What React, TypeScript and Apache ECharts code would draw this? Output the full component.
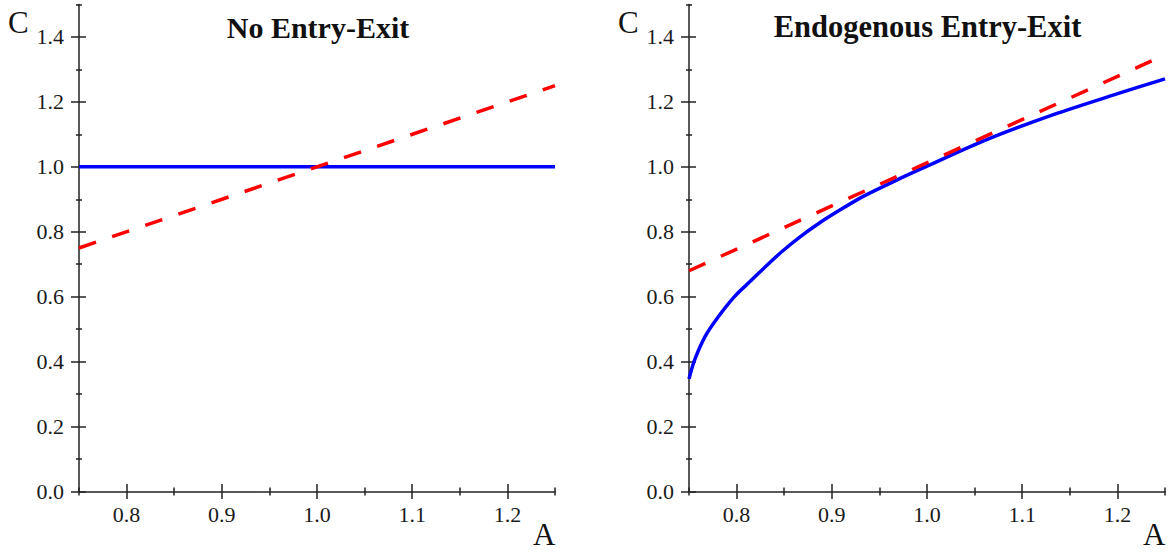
import React, { useEffect, useRef } from "react";
import * as echarts from "echarts";

// Left panel: No Entry-Exit
const leftBlueA = [0.75, 1.25];
const leftBlueC = [1.0, 1.0];
const leftRedA = [0.75, 1.25];
const leftRedC = [0.75, 1.25];

// Right panel: Endogenous Entry-Exit
const rightBlueA = [0.75, 0.756, 0.767, 0.781, 0.798, 0.816, 0.833, 0.848, 0.866, 0.887, 0.908, 0.933, 0.968, 1.0, 1.062, 1.132, 1.202, 1.25];
const rightBlueC = [0.347, 0.406, 0.478, 0.539, 0.601, 0.652, 0.7, 0.74, 0.783, 0.827, 0.866, 0.909, 0.959, 1.002, 1.083, 1.16, 1.227, 1.271];
const rightRedA = [0.75, 1.25];
const rightRedC = [0.68, 1.345];

// Ticks
const xLabelTicks = [0.8, 0.9, 1.0, 1.1, 1.2];
const xMinorTicks = [0.75, 0.85, 0.95, 1.05, 1.15, 1.25];
const yLabelTicks = [0, 0.2, 0.4, 0.6, 0.8, 1.0, 1.2, 1.4];
const yMinorTicks = [0.1, 0.3, 0.5, 0.7, 0.9, 1.1, 1.3, 1.5];

const titles = ["No Entry-Exit", "Endogenous Entry-Exit"];
const xName = "A";
const yName = "C";

const FONT = "Liberation Serif";
const AXIS_COLOR = "#222";
const LABEL_SIZE = 22;

function pairs(a: number[], c: number[]) {
  return a.map((v, i) => [v, c[i]]);
}

function isIn(list: number[], v: number) {
  return list.some((t) => Math.abs(t - v) < 1e-6);
}

function xAxes(gridIndex: number) {
  const base = { type: "value", gridIndex, min: 0.75, max: 1.25, position: "bottom", splitLine: { show: false } };
  return [
    {
      ...base,
      interval: 0.05,
      axisLine: { show: true, lineStyle: { color: AXIS_COLOR, width: 1.5 } },
      axisTick: { show: false },
      axisLabel: {
        show: true,
        formatter: (v: number) => (isIn(xLabelTicks, v) ? v.toFixed(1) : ""),
        color: "#1a1a1a",
        fontSize: LABEL_SIZE,
        fontFamily: FONT,
        margin: 12,
      },
    },
    {
      ...base,
      offset: -7.5,
      axisLine: { show: false },
      axisLabel: { show: false },
      axisTick: { show: true, customValues: xLabelTicks, length: 15, lineStyle: { color: AXIS_COLOR, width: 1.5 } },
    },
    {
      ...base,
      offset: -4,
      axisLine: { show: false },
      axisLabel: { show: false },
      axisTick: { show: true, customValues: xMinorTicks, length: 8, lineStyle: { color: AXIS_COLOR, width: 1.5 } },
    },
  ];
}

function yAxes(gridIndex: number) {
  const base = { type: "value", gridIndex, min: 0, max: 1.5, position: "left", splitLine: { show: false } };
  return [
    {
      ...base,
      interval: 0.1,
      axisLine: { show: true, lineStyle: { color: AXIS_COLOR, width: 1.5 } },
      axisTick: { show: false },
      axisLabel: {
        show: true,
        formatter: (v: number) => (isIn(yLabelTicks, v) ? v.toFixed(1) : ""),
        color: "#1a1a1a",
        fontSize: LABEL_SIZE,
        fontFamily: FONT,
        margin: 15,
      },
    },
    {
      ...base,
      offset: -7,
      axisLine: { show: false },
      axisLabel: { show: false },
      axisTick: { show: true, customValues: yLabelTicks, length: 15, lineStyle: { color: AXIS_COLOR, width: 1.5 } },
    },
    {
      ...base,
      offset: -3,
      axisLine: { show: false },
      axisLabel: { show: false },
      axisTick: { show: true, customValues: yMinorTicks, length: 6, lineStyle: { color: AXIS_COLOR, width: 1.5 } },
    },
  ];
}

export default function App() {
  const ref = useRef<HTMLDivElement>(null);
  useEffect(() => {
    if (!ref.current) return;
    const chart = echarts.init(ref.current, null, { renderer: "svg" });
    const blue = { color: "#0000ff", width: 3.5 };
    const red = { color: "#ff0000", width: 3.5, type: [18, 17] as any };
    chart.setOption({
      animation: false,
      backgroundColor: "#fff",
      grid: [
        { left: 79, top: 4.5, width: 476, height: 487 },
        { left: 689, top: 4.5, width: 476, height: 487 },
      ],
      xAxis: [...xAxes(0), ...xAxes(1)],
      yAxis: [...yAxes(0), ...yAxes(1)],
      series: [
        { type: "line", xAxisIndex: 0, yAxisIndex: 0, data: pairs(leftBlueA, leftBlueC), showSymbol: false, lineStyle: blue, z: 2 },
        { type: "line", xAxisIndex: 0, yAxisIndex: 0, data: pairs(leftRedA, leftRedC), showSymbol: false, lineStyle: red, z: 3 },
        { type: "line", xAxisIndex: 3, yAxisIndex: 3, data: pairs(rightBlueA, rightBlueC), showSymbol: false, smooth: 0.3, lineStyle: blue, z: 2 },
        { type: "line", xAxisIndex: 3, yAxisIndex: 3, data: pairs(rightRedA, rightRedC), showSymbol: false, lineStyle: red, z: 3 },
      ],
      graphic: [
        { type: "text", x: 318, y: 27, style: { text: titles[0], font: `bold 30px ${FONT}`, fill: "#111", align: "center", verticalAlign: "middle" } },
        { type: "text", x: 927.5, y: 27, style: { text: titles[1], font: `bold 30.5px ${FONT}`, fill: "#111", align: "center", verticalAlign: "middle" } },
        { type: "text", x: 8, y: 22, style: { text: yName, font: `31px ${FONT}`, fill: "#111", align: "left", verticalAlign: "middle" } },
        { type: "text", x: 618, y: 22, style: { text: yName, font: `31px ${FONT}`, fill: "#111", align: "left", verticalAlign: "middle" } },
        { type: "text", x: 533, y: 534, style: { text: xName, font: `31px ${FONT}`, fill: "#111", align: "left", verticalAlign: "middle" } },
        { type: "text", x: 1143, y: 534, style: { text: xName, font: `31px ${FONT}`, fill: "#111", align: "left", verticalAlign: "middle" } },
      ],
    });
    return () => chart.dispose();
  }, []);
  return <div ref={ref} style={{ position: "absolute", left: 0, top: 0, width: 1173, height: 553 }} />;
}
